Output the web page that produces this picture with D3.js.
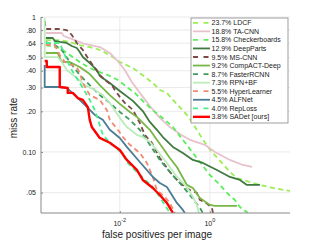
<!DOCTYPE html>
<html><head><meta charset="utf-8">
<script src="https://cdn.jsdelivr.net/npm/d3@7"></script>
<style>body{margin:0;background:#fff}svg{display:block;font-family:"Liberation Sans",Arial,Helvetica,sans-serif}</style>
</head><body><svg id="c" width="321" height="241"></svg>
<script>
// ---- data ----
const methods = ["LDCF","TA-CNN","Checkerboards","DeepParts","MS-CNN","CompACT-Deep","FasterRCNN","RPN+BF","HyperLearner","ALFNet","RepLoss","SADet [ours]"];
const rates = ["23.7%","18.8%","15.8%","12.9%","9.5%","9.2%","8.7%","7.3%","5.5%","4.5%","4.0%","3.8%"];
const colors = ["#99ee55","#e8c2ca","#5cee5c","#3f7a40","#7e4848","#78b646","#3f9c60","#bcecbc","#f28a72","#4a7c96","#48ee8a","#ff0000"];
const dashed = [true,false,true,false,true,false,true,false,true,false,true,false];

const LDCF = [[2.27e-4,0.675],[4.64e-4,0.675],[7.74e-4,0.653],[1.29e-3,0.620],[2.15e-3,0.599],[3.59e-3,0.570],[5.99e-3,0.523],[0.01,0.464],[0.0195,0.419],[0.0278,0.385],[0.0541,0.324],[0.0774,0.288],[0.111,0.274],[0.151,0.243],[0.215,0.215],[0.308,0.188],[0.398,0.167],[0.599,0.134],[0.903,0.109],[1.11,0.100],[1.85,0.0829],[2.78,0.0711],[3.98,0.0642],[7.74,0.0599],[12.9,0.0570],[25.1,0.0541],[60,0.0514]];
const TACNN = [[2.27e-4,0.761],[5.14e-4,0.761],[5.7e-4,0.723],[1.0e-3,0.675],[1.67e-3,0.631],[3.59e-3,0.599],[5.99e-3,0.541],[8.58e-3,0.480],[0.0129,0.405],[0.0185,0.330],[0.0278,0.274],[0.0464,0.219],[0.0774,0.179],[0.129,0.153],[0.215,0.136],[0.359,0.123],[0.774,0.113],[1.29,0.100],[2.78,0.0873],[5.41,0.0801],[8.58,0.0774]];
const Checkerboards = [[2.27e-4,0.620],[4.64e-4,0.589],[7.74e-4,0.523],[1.29e-3,0.464],[2.15e-3,0.419],[3.59e-3,0.391],[5.99e-3,0.366],[9.03e-3,0.341],[0.0143,0.303],[0.0215,0.274],[0.0359,0.231],[0.0599,0.198],[0.1,0.173],[0.151,0.153],[0.251,0.123],[0.419,0.0983],[0.599,0.0843],[1.0,0.0675],[1.67,0.0570],[2.39,0.0497],[3.59,0.0441],[4.64,0.0391],[6.99,0.0353]];
const DeepParts = [[2.27e-4,0.699],[3.25e-4,0.699],[3.59e-4,0.664],[4.64e-4,0.653],[6.64e-4,0.642],[8.58e-4,0.610],[1.11e-3,0.589],[1.29e-3,0.550],[1.51e-3,0.505],[2.15e-3,0.456],[3.08e-3,0.405],[3.59e-3,0.366],[5.99e-3,0.324],[0.01,0.283],[0.0195,0.239],[0.0324,0.201],[0.0464,0.167],[0.0664,0.146],[0.0903,0.129],[0.151,0.109],[0.251,0.0983],[0.419,0.0873],[0.698,0.0829],[1.43,0.0736],[2.78,0.0653],[4.64,0.0620],[6.64,0.0570],[12.9,0.0570]];
const MSCNN = [[2.15e-4,0.934],[2.27e-4,0.815],[4.64e-4,0.815],[6.64e-4,0.80],[8.58e-4,0.736],[1.11e-3,0.642],[1.51e-3,0.570],[1.95e-3,0.497],[2.78e-3,0.419],[3.59e-3,0.372],[4.64e-3,0.341],[6.64e-3,0.313],[7.74e-3,0.288],[0.01,0.256],[0.0129,0.231],[0.0195,0.205],[0.0278,0.164],[0.0359,0.134],[0.0514,0.117],[0.0774,0.0903],[0.129,0.0711],[0.215,0.0589],[0.359,0.0523],[0.514,0.0497],[0.599,0.0441],[0.774,0.0426],[1.11,0.0385],[1.17,0.0353]];
const CompACT = [[2.27e-4,0.541],[4.19e-4,0.541],[4.64e-4,0.497],[5.14e-4,0.464],[7.74e-4,0.464],[1.29e-3,0.426],[2.15e-3,0.378],[3.59e-3,0.313],[5.99e-3,0.264],[0.01,0.227],[0.0167,0.198],[0.0239,0.182],[0.0464,0.146],[0.0664,0.123],[0.0903,0.107],[0.129,0.0903],[0.185,0.0774],[0.308,0.0570],[0.419,0.0541],[0.599,0.0456],[1.0,0.0405],[1.29,0.0398],[3.98,0.0398]];
const FasterRCNN = [[2.27e-4,0.653],[3.59e-4,0.620],[5.14e-4,0.570],[7.74e-4,0.464],[1.29e-3,0.372],[2.15e-3,0.313],[3.59e-3,0.264],[5.99e-3,0.231],[0.01,0.198],[0.0167,0.173],[0.0278,0.146],[0.0464,0.113],[0.0774,0.0873],[0.129,0.0711],[0.215,0.0589],[0.359,0.0480],[0.599,0.0385],[0.698,0.0353]];
const RPNBF = [[2.15e-4,0.983],[2.15e-4,0.505],[4.19e-4,0.505],[5.14e-4,0.464],[6.64e-4,0.405],[1.11e-3,0.353],[1.67e-3,0.313],[2.78e-3,0.288],[4.19e-3,0.264],[5.99e-3,0.231],[0.01,0.179],[0.0143,0.153],[0.0239,0.134],[0.0324,0.129],[0.0464,0.119],[0.0664,0.1035],[0.111,0.0829],[0.185,0.0653],[0.308,0.0550],[0.419,0.0464],[0.514,0.0405],[0.570,0.0353]];
const HyperLearner = [[2.27e-4,0.620],[3.59e-4,0.620],[4.64e-4,0.523],[6.0e-4,0.464],[8.58e-4,0.441],[1.11e-3,0.426],[1.29e-3,0.385],[1.51e-3,0.324],[2.15e-3,0.264],[3.59e-3,0.243],[5.14e-3,0.205],[5.99e-3,0.173],[9.03e-3,0.146],[0.0117,0.129],[0.0167,0.113],[0.0278,0.0983],[0.0398,0.0829],[0.0541,0.0653],[0.0664,0.0523],[0.1,0.0464],[0.129,0.0419],[0.167,0.0353]];
const ALFNet = [[2.15e-4,0.441],[2.15e-4,0.303],[4.64e-4,0.303],[6.64e-4,0.298],[1.0e-3,0.264],[1.67e-3,0.223],[2.78e-3,0.188],[4.19e-3,0.173],[5.99e-3,0.146],[0.01,0.127],[0.0143,0.109],[0.0278,0.0843],[0.0541,0.0653],[0.0774,0.0589],[0.111,0.0550],[0.185,0.0419],[0.251,0.0372],[0.278,0.0353]];
const RepLoss = [[2.27e-4,0.642],[4.64e-4,0.642],[5.41e-4,0.570],[6.64e-4,0.480],[8.58e-4,0.405],[1.17e-3,0.341],[1.51e-3,0.298],[2.15e-3,0.243],[2.78e-3,0.205],[3.59e-3,0.158],[4.19e-3,0.134],[5.99e-3,0.117],[0.0111,0.0983],[0.0143,0.0843],[0.0278,0.0675],[0.0541,0.0550],[0.0774,0.0464],[0.1,0.0405],[0.129,0.0353]];
const SADet = [[2.15e-4,0.472],[2.39e-4,0.472],[2.39e-4,0.426],[4.64e-4,0.426],[4.64e-4,0.303],[6.98e-4,0.298],[6.98e-4,0.274],[9.03e-4,0.274],[1.17e-3,0.251],[1.51e-3,0.243],[1.95e-3,0.215],[2.15e-3,0.173],[2.39e-3,0.153],[3.59e-3,0.127],[5.99e-3,0.117],[0.01,0.1035],[0.0143,0.0873],[0.0239,0.0736],[0.0324,0.0620],[0.0541,0.0541],[0.0774,0.0480],[0.111,0.0419],[0.151,0.0353]];
const series = [LDCF,TACNN,Checkerboards,DeepParts,MSCNN,CompACT,FasterRCNN,RPNBF,HyperLearner,ALFNet,RepLoss,SADet];

const yTicks = [0.05,0.10,0.20,0.30,0.40,0.50,0.64,0.80,1];
const yTickLabels = [".05","0.10",".20",".30",".40",".50",".64",".80","1"];
const xTicks = [0.01,1];
const xTickExp = ["-2","0"];
const xDomain = [1.78e-4, 60];
const yDomain = [0.0353, 1];

// ---- chart ----
const svg = d3.select("#c");
const L = 41, R = 290, T = 17, B = 213;
const x = d3.scaleLog().domain(xDomain).range([L, R]);
const y = d3.scaleLog().domain(yDomain).range([B, T]);

// grid
svg.append("g").selectAll("line").data(yTicks).join("line")
  .attr("x1", L).attr("x2", R).attr("y1", d => y(d)).attr("y2", d => y(d))
  .attr("stroke", "#e4e4e4").attr("stroke-width", 0.8);
svg.append("g").selectAll("line").data(xTicks).join("line")
  .attr("x1", d => x(d)).attr("x2", d => x(d)).attr("y1", T).attr("y2", B)
  .attr("stroke", "#e4e4e4").attr("stroke-width", 0.8);

// curves
svg.append("clipPath").attr("id", "clip").append("rect")
  .attr("x", L).attr("y", T).attr("width", R - L).attr("height", B - T);
const line = d3.line().x(d => x(d[0])).y(d => y(d[1]));
const cg = svg.append("g").attr("clip-path", "url(#clip)");
series.forEach((s, i) => {
  cg.append("path").attr("d", line(s)).attr("fill", "none")
    .attr("stroke", colors[i]).attr("stroke-width", i === 11 ? 2.4 : 1.8)
    .attr("stroke-dasharray", dashed[i] ? "5,3.5" : null)
    .attr("stroke-linejoin", "round");
});

// axes
const ax = svg.append("g").attr("transform", `translate(${L},0)`)
  .call(d3.axisLeft(y).tickValues(yTicks).tickFormat((d, i) => yTickLabels[i]).tickSize(-2).tickPadding(5));
ax.select(".domain").remove();
ax.selectAll("line").attr("stroke", "#888");
ax.selectAll("text").attr("font-size", 7).attr("fill", "#222").attr("font-family", "Liberation Sans, Arial, sans-serif");
const bx = svg.append("g").attr("transform", `translate(0,${B})`)
  .call(d3.axisBottom(x).tickValues(xTicks).tickFormat("").tickSize(-2));
bx.select(".domain").remove();
bx.selectAll("line").attr("stroke", "#888");
svg.append("line").attr("x1", L).attr("x2", L).attr("y1", T).attr("y2", B).attr("stroke", "#888").attr("stroke-width", 1);
svg.append("line").attr("x1", L).attr("x2", R).attr("y1", B).attr("y2", B).attr("stroke", "#888").attr("stroke-width", 1);

const xl = svg.append("g").selectAll("text").data(xTicks).join("text")
  .attr("x", d => x(d)).attr("y", 226).attr("text-anchor", "middle")
  .attr("font-size", 7).attr("fill", "#222");
xl.append("tspan").text("10");
xl.append("tspan").attr("dy", -4).attr("font-size", 5.5).text((d, i) => xTickExp[i]);

svg.append("text").attr("x", 157).attr("y", 238).attr("text-anchor", "middle")
  .attr("font-size", 10).attr("fill", "#222").text("false positives per image");
svg.append("text").attr("transform", "translate(17,118) rotate(-90)").attr("text-anchor", "middle")
  .attr("font-size", 10).attr("fill", "#222").text("miss rate");

// legend
const lg = svg.append("g");
lg.append("rect").attr("x", 191).attr("y", 18).attr("width", 97).attr("height", 105)
  .attr("fill", "#fff").attr("stroke", "#888").attr("stroke-width", 0.8);
methods.forEach((m, i) => {
  const yy = 22.8 + i * 8.55;
  lg.append("line").attr("x1", 193).attr("x2", 210).attr("y1", yy).attr("y2", yy)
    .attr("stroke", colors[i]).attr("stroke-width", i === 11 ? 2.4 : 1.8)
    .attr("stroke-dasharray", dashed[i] ? "5,5.5" : null);
  lg.append("text").attr("x", 211.5).attr("y", yy).attr("dy", "0.36em")
    .attr("font-size", 7).attr("fill", "#222").text(rates[i] + " " + m);
});
</script></body></html>
